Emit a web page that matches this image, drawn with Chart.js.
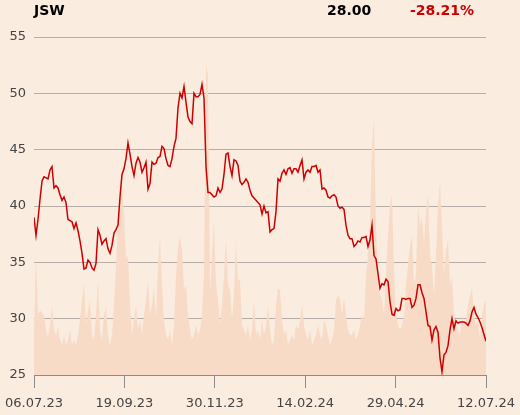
<!DOCTYPE html>
<html>
<head>
<meta charset="utf-8">
<script src="https://cdn.jsdelivr.net/npm/chart.js@4.4.1/dist/chart.umd.min.js"></script>
<style>
  html, body { margin: 0; padding: 0; background: #fbece0; }
  #wrap { position: relative; width: 520px; height: 415px; overflow: hidden; }
  canvas { position: absolute; left: 0; top: 0; }
  .hdr { position: absolute; top: 3px; font: bold 14px/14px "DejaVu Sans", sans-serif; white-space: nowrap; }
</style>
</head>
<body>
<div id="wrap">
  <canvas id="c" width="520" height="415"></canvas>
  <div class="hdr" style="left:34px;color:#000;">JSW</div>
  <div class="hdr" style="left:327px;color:#000;">28.00</div>
  <div class="hdr" style="left:410px;color:#cc0000;">-28.21%</div>
</div>
<script>
const tickLabels = ['06.07.23', '19.09.23', '30.11.23', '14.02.24', '29.04.24', '12.07.24'];
const yTicks = [25, 30, 35, 40, 45, 50, 55];

const price = [
  39.0, 37.4, 38.8, 40.6, 42.2, 42.6, 42.5, 42.4, 43.2, 43.5,
  41.6, 41.8, 41.6, 41.0, 40.5, 40.8, 40.3, 38.8, 38.7, 38.6,
  38.0, 38.5, 37.8, 36.9, 35.8, 34.4, 34.5, 35.2, 35.0, 34.5,
  34.3, 34.9, 37.9, 37.4, 36.6, 36.9, 37.1, 36.2, 35.8, 36.5,
  37.6, 37.9, 38.3, 40.8, 42.8, 43.3, 44.2, 45.6, 44.6, 43.5,
  42.7, 43.8, 44.3, 43.9, 43.0, 43.4, 43.9, 41.5, 42.0, 43.9,
  43.7, 43.8, 44.3, 44.4, 45.3, 45.1, 44.2, 43.6, 43.5, 44.2,
  45.3, 46.0, 48.7, 50.0, 49.6, 50.6, 49.2, 47.9, 47.5, 47.3,
  50.0, 49.7, 49.7, 49.9, 50.8, 49.6, 43.5, 41.2, 41.2, 41.0,
  40.8, 40.9, 41.6, 41.2, 41.5, 42.8, 44.6, 44.7, 43.5, 42.7,
  44.1, 44.0, 43.6, 42.2, 41.9, 42.1, 42.4, 42.1, 41.4, 40.9,
  40.7, 40.5, 40.3, 40.1, 39.3, 40.0, 39.4, 39.5, 37.7, 37.9,
  38.0, 39.5, 42.4, 42.2, 42.9, 43.2, 42.8, 43.3, 43.4, 42.9,
  43.3, 43.3, 43.0, 43.6, 44.1, 42.4, 43.0, 43.2, 43.0, 43.5,
  43.5, 43.6, 43.0, 43.2, 41.5, 41.6, 41.4, 40.8, 40.7, 40.9,
  41.0, 40.8, 40.0, 39.8, 39.9, 39.7, 38.3, 37.4, 37.1, 37.1,
  36.4, 36.6, 36.9, 36.8, 37.2, 37.2, 37.3, 36.4, 37.0, 38.3,
  35.6, 35.3, 34.0, 32.7, 33.1, 33.0, 33.5, 33.3, 31.5, 30.4,
  30.3, 30.9, 30.7, 30.8, 31.8, 31.8, 31.7, 31.8, 31.8, 31.0,
  31.2, 31.8, 33.0, 33.0, 32.3, 31.8, 30.6, 29.4, 29.3, 28.1,
  29.0, 29.3, 28.8, 26.5, 25.3, 26.8, 27.0, 27.6, 29.0, 30.0,
  29.1, 29.8, 29.6, 29.7, 29.7, 29.7, 29.6, 29.4, 29.8, 30.6,
  31.0, 30.4, 30.1, 29.7, 29.2, 28.6, 28.0
];

const volume = [
  40, 120, 60, 65, 62, 60, 45, 38, 50, 70,
  45, 40, 48, 35, 30, 40, 30, 35, 45, 30,
  35, 30, 40, 55, 75, 93, 50, 65, 75, 40,
  35, 60, 95, 45, 35, 60, 68, 40, 30, 40,
  70, 110, 150, 175, 185, 160, 115, 120, 70, 40,
  55, 70, 45, 55, 40, 60, 75, 95, 60, 70,
  88, 55, 110, 137, 90, 55, 40, 35, 45, 30,
  50, 100, 128, 138, 125, 85, 90, 60, 45, 35,
  40, 50, 40, 45, 60, 100, 310, 300, 80, 120,
  155, 90, 75, 50, 70, 100, 135, 90, 85, 55,
  80, 133, 95, 95, 50, 45, 40, 50, 35, 45,
  75, 40, 45, 35, 55, 40, 50, 70, 45, 30,
  35, 70, 87, 85, 55, 40, 45, 30, 35, 40,
  35, 50, 45, 55, 70, 50, 40, 35, 45, 30,
  35, 40, 50, 40, 35, 55, 50, 40, 30, 35,
  45, 75, 80, 77, 60, 78, 60, 45, 40, 40,
  45, 35, 40, 50, 60, 55, 100, 120, 150, 230,
  255, 150, 90, 80, 75, 60, 100, 140, 170, 180,
  100, 60, 50, 45, 50, 60, 90, 110, 130, 140,
  90, 100, 170, 150, 158, 130, 165, 180, 120, 108,
  80, 120, 170, 192, 150, 100, 125, 135, 90, 98,
  60, 50, 45, 40, 60, 50, 55, 70, 80, 87,
  60, 50, 55, 35, 60, 70, 75
];

const n = price.length;
const idx = price.map((_, i) => i);
const tickPos = tickLabels.map((_, i) => i * (n - 1) / (tickLabels.length - 1));

const axisFont = { family: '"DejaVu Sans", sans-serif', size: 13 };

new Chart(document.getElementById('c'), {
  type: 'line',
  data: {
    labels: idx,
    datasets: [
      {
        data: price,
        yAxisID: 'y',
        borderColor: '#cc0000',
        borderWidth: 1.5,
        pointRadius: 0,
        tension: 0,
        fill: false,
        order: 0
      },
      {
        data: volume,
        yAxisID: 'vol',
        borderWidth: 0,
        borderColor: 'rgba(0,0,0,0)',
        backgroundColor: '#f7dbc6',
        pointRadius: 0,
        tension: 0,
        fill: 'origin',
        order: 1
      }
    ]
  },
  options: {
    responsive: false,
    animation: false,
    devicePixelRatio: 1,
    layout: { padding: { top: 37, right: 34, left: 0, bottom: 0 } },
    plugins: { legend: { display: false }, tooltip: { enabled: false } },
    scales: {
      x: {
        type: 'linear',
        min: 0,
        max: n - 1,
        afterBuildTicks: s => { s.ticks = tickPos.map(v => ({ value: v })); },
        afterFit: s => { s.height = 40; s.paddingLeft = 0; s.paddingRight = 0; },
        ticks: {
          autoSkip: false,
          maxRotation: 0,
          font: axisFont,
          color: '#444',
          padding: 8,
          callback: (v, i) => tickLabels[i]
        },
        grid: { drawOnChartArea: false, drawTicks: true, tickLength: 13, color: '#8c8c8c', lineWidth: 1 },
        border: { display: true, color: '#8c8c8c', width: 1 }
      },
      y: {
        position: 'left',
        min: 25,
        max: 55,
        afterBuildTicks: s => { s.ticks = yTicks.map(v => ({ value: v })); },
        afterFit: s => { s.width = 34; s.paddingTop = 0; s.paddingBottom = 0; },
        ticks: { font: axisFont, color: '#444', padding: 8 },
        grid: { drawTicks: false, color: '#b5aea8', lineWidth: 1 },
        border: { display: false }
      },
      vol: {
        display: false,
        min: 0,
        max: 338
      }
    }
  }
});
</script>
</body>
</html>
